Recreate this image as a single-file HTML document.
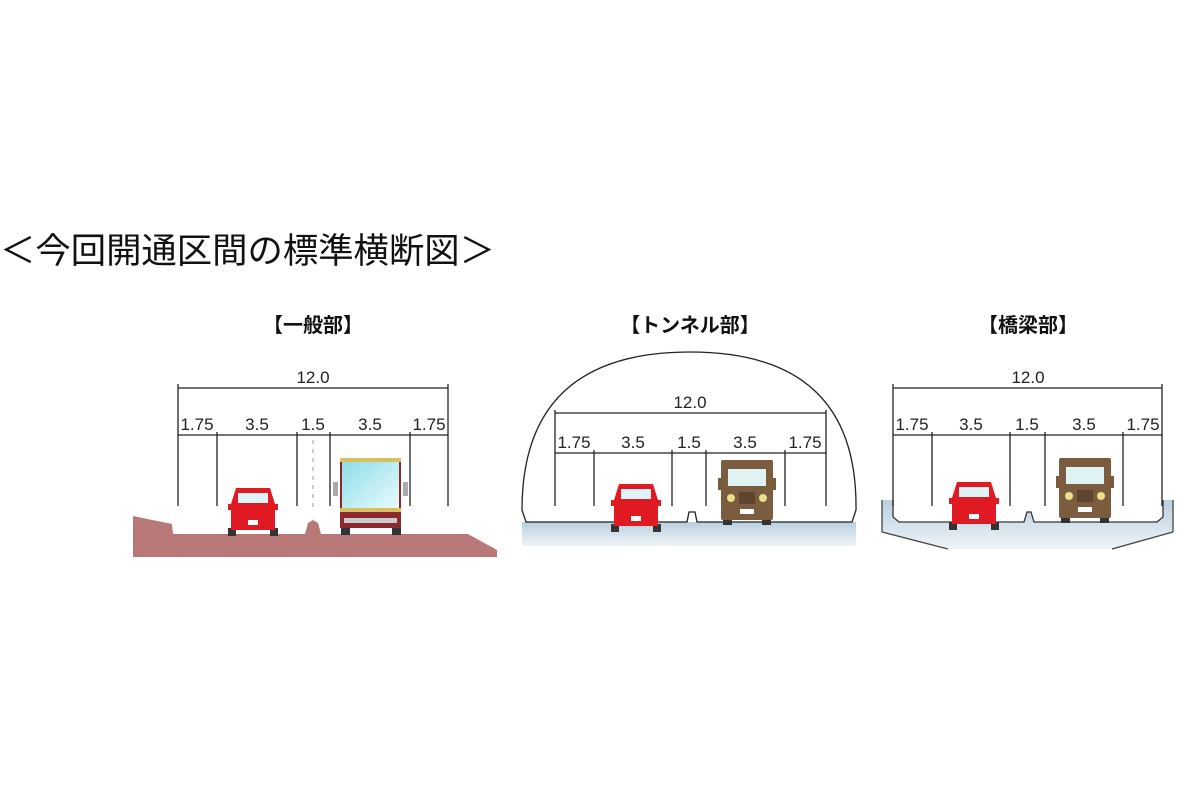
<!DOCTYPE html>
<html><head><meta charset="utf-8"><style>
html,body{margin:0;padding:0;background:#fff;}
svg{display:block;}
text{font-family:"Liberation Sans","Noto Sans CJK JP",sans-serif;}
</style></head><body>
<svg width="1200" height="800" viewBox="0 0 1200 800" xmlns="http://www.w3.org/2000/svg">
<defs>
<linearGradient id="blue" x1="0" y1="0" x2="0" y2="1"><stop offset="0" stop-color="#b9cfdf"/><stop offset="1" stop-color="#eef4f8"/></linearGradient>
<linearGradient id="glass" x1="0" y1="0" x2="1" y2="1"><stop offset="0" stop-color="#8fdde8"/><stop offset="1" stop-color="#e8fbfd"/></linearGradient>
<g id="car">
<rect x="0" y="40" width="8" height="8" fill="#333"/><rect x="42" y="40" width="8" height="8" fill="#333"/>
<path d="M8 0 H42 L47 16 H50 V22 H47 V42 H3 V22 H0 V16 H3 Z" fill="#e01a22"/>
<rect x="10" y="5" width="30" height="10" fill="#dff3f7"/>
<rect x="20" y="32" width="10" height="5" fill="#fff"/>
</g>
<g id="truck">
<rect x="5" y="58" width="9" height="7" fill="#333"/><rect x="44" y="58" width="9" height="7" fill="#333"/>
<rect x="0" y="18" width="5" height="12" fill="#7a5a3a"/><rect x="53" y="18" width="5" height="12" fill="#7a5a3a"/>
<rect x="3" y="0" width="52" height="60" fill="#7b5c3e" rx="2"/>
<rect x="10" y="9" width="38" height="17" fill="#dff3f3"/>
<circle cx="13" cy="38" r="4" fill="#e9e08a"/><circle cx="45" cy="38" r="4" fill="#e9e08a"/>
<rect x="21" y="32" width="16" height="12" fill="#5e4530"/>
<rect x="22" y="49" width="14" height="5" fill="#fff"/>
</g>
</defs>

<text x="0" y="263" font-size="35" fill="#111" textLength="495" lengthAdjust="spacingAndGlyphs">＜今回開通区間の標準横断図＞</text>
<g font-size="20" font-weight="bold" text-anchor="middle" fill="#111">
<text x="313" y="332">【一般部】</text>
<text x="690" y="332">【トンネル部】</text>
<text x="1028" y="332">【橋梁部】</text>
</g>

<!-- Panel 1 -->
<path d="M133 516 L172 524 L173 534 L305 534 L308 523 L313 520 L318 523 L321 534 L468 534 L497 550 L497 557 L133 557 Z" fill="#b87878"/>
<g stroke="#222" stroke-width="1.3" fill="none">
<line x1="178" y1="388" x2="448" y2="388"/>
<line x1="178" y1="435" x2="448" y2="435"/>
<line x1="178" y1="384" x2="178" y2="506"/><line x1="448" y1="384" x2="448" y2="506"/>
<line x1="217" y1="432" x2="217" y2="506"/><line x1="297" y1="432" x2="297" y2="506"/>
<line x1="330" y1="432" x2="330" y2="506"/><line x1="410" y1="432" x2="410" y2="506"/>
</g>
<line x1="313" y1="440" x2="313" y2="510" stroke="#999" stroke-dasharray="4 5"/>
<g font-size="17" text-anchor="middle" fill="#222">
<text x="313" y="383">12.0</text>
<text x="197" y="430">1.75</text><text x="257" y="430">3.5</text><text x="313" y="430">1.5</text><text x="370" y="430">3.5</text><text x="429" y="430">1.75</text>
</g>
<use href="#car" x="228" y="488"/>
<g>
<rect x="333" y="482" width="5" height="14" fill="#aaa"/><rect x="403" y="482" width="5" height="14" fill="#aaa"/>
<rect x="341" y="527" width="9" height="8" fill="#333"/><rect x="392" y="527" width="9" height="8" fill="#333"/>
<rect x="340" y="458" width="61" height="70" fill="#8a2a30"/>
<rect x="340" y="458" width="61" height="4" fill="#d8c060"/>
<rect x="342" y="462" width="57" height="46" fill="url(#glass)"/>
<rect x="340" y="508" width="61" height="4" fill="#d8c060"/>
<rect x="344" y="518" width="53" height="5" fill="#ccc"/>
</g>

<!-- Panel 2 -->
<rect x="522" y="522" width="334" height="24" fill="url(#blue)"/>
<path d="M526 522 L522 510 Q522 352 690 352 Q858 352 856 510 L852 522 L697 522 L695 512 L689 512 L687 522 Z" fill="#fff" stroke="#222" stroke-width="1.3"/>
<g stroke="#222" stroke-width="1.3" fill="none">
<line x1="555" y1="413" x2="826" y2="413"/>
<line x1="555" y1="453" x2="826" y2="453"/>
<line x1="555" y1="410" x2="555" y2="506"/><line x1="826" y1="410" x2="826" y2="506"/>
<line x1="594" y1="450" x2="594" y2="506"/><line x1="672" y1="450" x2="672" y2="506"/>
<line x1="706" y1="450" x2="706" y2="506"/><line x1="785" y1="450" x2="785" y2="506"/>
</g>
<g font-size="17" text-anchor="middle" fill="#222">
<text x="690" y="408">12.0</text>
<text x="574" y="448">1.75</text><text x="633" y="448">3.5</text><text x="689" y="448">1.5</text><text x="745" y="448">3.5</text><text x="805" y="448">1.75</text>
</g>
<use href="#car" x="611" y="484"/>
<use href="#truck" x="718" y="460"/>

<!-- Panel 3 -->
<path d="M882 500 L893 500 L893 517 L899 522 L1024 522 L1027 512 L1031 512 L1034 522 L1157 522 L1163 517 L1163 500 L1173 500 L1173 532 L1112 549 L948 549 L882 532 Z" fill="url(#blue)"/>
<path d="M882 532 L948 549 M1173 532 L1112 549 M882 500 V532 M1173 500 V532" stroke="#444" stroke-width="1.3" fill="none"/>
<path d="M893 500 V517 L899 522 H1024 L1027 512 H1031 L1034 522 H1157 L1163 517 V500" stroke="#333" stroke-width="1.3" fill="none"/>
<g stroke="#222" stroke-width="1.3" fill="none">
<line x1="893" y1="388" x2="1162" y2="388"/>
<line x1="893" y1="435" x2="1162" y2="435"/>
<line x1="893" y1="384" x2="893" y2="506"/><line x1="1162" y1="384" x2="1162" y2="506"/>
<line x1="932" y1="432" x2="932" y2="506"/><line x1="1010" y1="432" x2="1010" y2="506"/>
<line x1="1045" y1="432" x2="1045" y2="506"/><line x1="1123" y1="432" x2="1123" y2="506"/>
</g>
<g font-size="17" text-anchor="middle" fill="#222">
<text x="1028" y="383">12.0</text>
<text x="912" y="430">1.75</text><text x="971" y="430">3.5</text><text x="1027" y="430">1.5</text><text x="1084" y="430">3.5</text><text x="1143" y="430">1.75</text>
</g>
<use href="#car" x="949" y="482"/>
<use href="#truck" x="1056" y="458"/>
</svg>
</body></html>
